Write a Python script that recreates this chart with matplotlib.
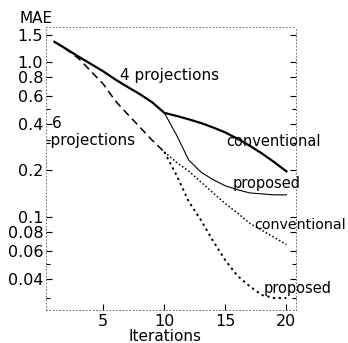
import matplotlib
matplotlib.use("Agg")
import matplotlib.pyplot as plt
from matplotlib.ticker import FixedLocator, NullFormatter

plt.rcParams['font.family'] = ['DejaVu Sans']

# iterations
it_all = list(range(1, 21))
it_pre = list(range(1, 11))
it_post = list(range(10, 21))

# 4 projections
conv4 = [1.35, 1.21, 1.08, 0.97, 0.87, 0.77, 0.69, 0.62, 0.55, 0.47,
         0.449, 0.427, 0.404, 0.378, 0.351, 0.320, 0.288, 0.257, 0.226, 0.197]
prop4 = [0.47, 0.338, 0.233, 0.195, 0.174, 0.159, 0.150, 0.143, 0.141, 0.139, 0.139]

# 6 projections
pre6 = [1.35, 1.20, 1.05, 0.87, 0.72, 0.56, 0.46, 0.38, 0.313, 0.263]
conv6 = [0.263, 0.225, 0.198, 0.168, 0.143, 0.122, 0.106, 0.091, 0.082, 0.074, 0.0665]
prop6 = [0.263, 0.186, 0.126, 0.0955, 0.070, 0.0525, 0.0417, 0.0357, 0.0314, 0.030, 0.030]

ytick_vals = [1.5, 1.0, 0.8, 0.6, 0.4, 0.2, 0.1, 0.08, 0.06, 0.04]
ytick_labels = ['1.5', '1.0', '0.8', '0.6', '0.4', '0.2', '0.1', '0.08', '0.06', '0.04']
xtick_vals = [5, 10, 15, 20]

fig = plt.figure(figsize=(3.48, 3.43), dpi=100)
ax = fig.add_axes([0.132, 0.096, 0.719, 0.825])

ax.plot(it_all, conv4, color='black', lw=1.6)
ax.plot(it_post, prop4, color='black', lw=0.8)
ax.plot(it_pre, pre6, color='black', lw=1.1, linestyle=(0, (5, 3)))
ax.plot(it_post, conv6, color='black', lw=1.1, linestyle=(0, (1, 1.5)))
ax.plot(it_post, prop6, color='black', lw=1.4, linestyle=(0, (1.2, 1.8)))

ax.set_yscale('log')
ax.set_ylim(0.0251, 1.68)
ax.set_xlim(0.3, 20.8)

ax.yaxis.set_major_locator(FixedLocator(ytick_vals))
ax.set_yticklabels(ytick_labels)
ax.yaxis.set_minor_locator(FixedLocator([0.03, 0.05, 0.3, 0.5]))
ax.yaxis.set_minor_formatter(NullFormatter())
ax.set_xticks(xtick_vals)

ax.tick_params(axis='both', which='both', direction='in', labelsize=11.5,
               width=0.8, color='black', right=True)
ax.tick_params(which='major', length=4)
ax.tick_params(which='minor', length=3)
ax.tick_params(axis='y', pad=2)
ax.tick_params(axis='x', pad=3)

for s in ax.spines.values():
    s.set_linewidth(0.6)
    s.set_linestyle((0, (1, 3)))
    s.set_color('#555555')

fig.text(0.104, 0.947, 'MAE', fontsize=11, ha='center', va='center')
ax.set_xlabel('Iterations', fontsize=11, labelpad=0)
ax.xaxis.set_label_coords(0.475, -0.068)
ax.xaxis.label.set_va('top')

ax.text(6.4, 0.82, '4 projections', fontsize=11, ha='left', va='center')
ax.text(15.1, 0.305, 'conventional', fontsize=10.5, ha='left', va='center')
ax.text(15.6, 0.165, 'proposed', fontsize=10.5, ha='left', va='center')
ax.text(17.4, 0.089, 'conventional', fontsize=10.3, ha='left', va='center')
ax.text(18.1, 0.0347, 'proposed', fontsize=10.5, ha='left', va='center')
ax.text(0.8, 0.40, '6', fontsize=11, ha='left', va='center')
ax.text(0.25, 0.31, '-projections', fontsize=11, ha='left', va='center')

fig.savefig('out.png', dpi=100)
